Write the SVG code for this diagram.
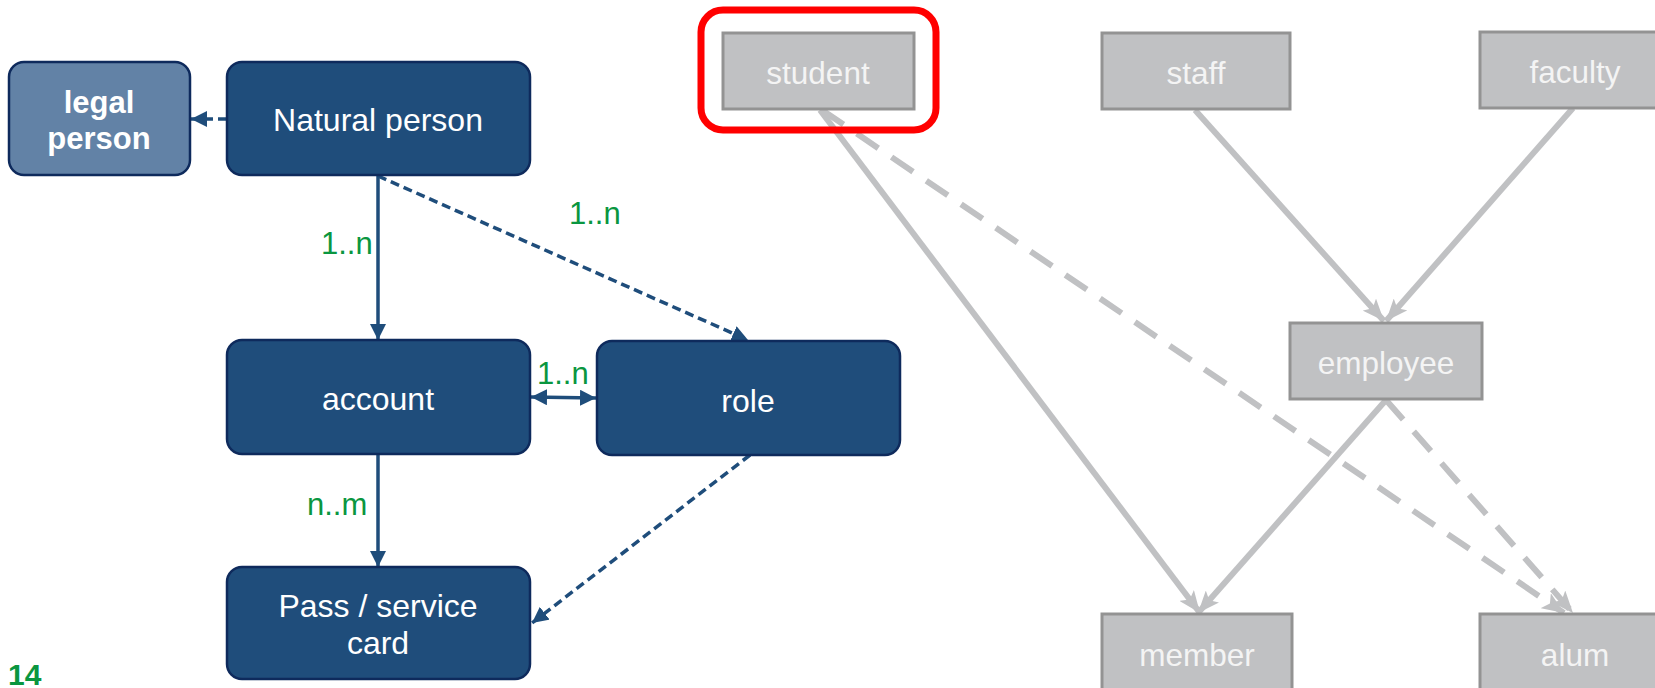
<svg xmlns="http://www.w3.org/2000/svg" width="1655" height="688" viewBox="0 0 1655 688">
<style>
.bbox{fill:#1f4d7b;stroke:#0e2a5c;stroke-width:2.5}
.lbox{fill:#6282a6;stroke:#0e2a5c;stroke-width:2.5}
.btxt{fill:#ffffff;font-family:"Liberation Sans",Arial,sans-serif;font-size:32px;text-anchor:middle}
.bold{font-weight:bold;font-size:31px}
.gbox{fill:#c0c1c3;stroke:#939393;stroke-width:3}
.gtxt{fill:#f4f4f4;font-family:"Liberation Sans",Arial,sans-serif;font-size:31.5px;text-anchor:middle}
.lab{fill:#0a9640;font-family:"Liberation Sans",Arial,sans-serif;font-size:31px}
.bl{stroke:#1f4d7b;stroke-width:3.5;fill:none}
.bd{stroke-dasharray:9 5}
.gl{stroke:#c0c1c3;stroke-width:6;fill:none}
.gd{stroke-dasharray:26 16}
</style>
<defs>
<marker id="ba" markerUnits="userSpaceOnUse" viewBox="0 0 16 16" refX="16" refY="8" markerWidth="16" markerHeight="16" orient="auto-start-reverse">
<path d="M0,0 L16,8 L0,16 z" fill="#1f4d7b"/>
</marker>
<marker id="ga" markerUnits="userSpaceOnUse" viewBox="0 0 22 18" refX="22" refY="9" markerWidth="22" markerHeight="18" orient="auto">
<path d="M0,0 L22,9 L0,18 L5,9 z" fill="#c0c1c3"/>
</marker>
</defs>

<g id="connectors">
<line class="bl bd" x1="227" y1="119" x2="191" y2="119" marker-end="url(#ba)"/>
<line class="bl" x1="378" y1="176" x2="378" y2="340" marker-end="url(#ba)"/>
<line class="bl bd" x1="378" y1="176" x2="748" y2="340" marker-end="url(#ba)"/>
<line class="bl" x1="531" y1="397" x2="596" y2="398" marker-start="url(#ba)" marker-end="url(#ba)"/>
<line class="bl" x1="378" y1="454" x2="378" y2="567" marker-end="url(#ba)"/>
<line class="bl bd" x1="750" y1="455" x2="532" y2="623" marker-end="url(#ba)"/>

<line class="gl" x1="820" y1="110" x2="1200" y2="613" marker-end="url(#ga)"/>
<line class="gl gd" x1="822" y1="110" x2="1564" y2="613" marker-end="url(#ga)"/>
<line class="gl" x1="1195" y1="110" x2="1384" y2="321" marker-end="url(#ga)"/>
<line class="gl" x1="1573" y1="108" x2="1386" y2="321" marker-end="url(#ga)"/>
<line class="gl" x1="1386" y1="400" x2="1198" y2="613" marker-end="url(#ga)"/>
<line class="gl gd" x1="1386" y1="400" x2="1573" y2="613" marker-end="url(#ga)"/>

<text class="lab" x="321" y="254">1..n</text>
<text class="lab" x="569" y="224">1..n</text>
<text class="lab" x="537" y="384">1..n</text>
<text class="lab" x="307" y="515">n..m</text>
</g>

<g id="legal-person">
<rect class="lbox" x="9" y="62" width="181" height="113" rx="15"/>
<text class="btxt bold" x="99" y="113">legal</text>
<text class="btxt bold" x="99" y="149">person</text>
</g>
<g id="natural-person">
<rect class="bbox" x="227" y="62" width="303" height="113" rx="15"/>
<text class="btxt" x="378" y="131">Natural person</text>
</g>
<g id="account">
<rect class="bbox" x="227" y="340" width="303" height="114" rx="15"/>
<text class="btxt" x="378" y="410">account</text>
</g>
<g id="role">
<rect class="bbox" x="597" y="341" width="303" height="114" rx="15"/>
<text class="btxt" x="748" y="412">role</text>
</g>
<g id="pass">
<rect class="bbox" x="227" y="567" width="303" height="112" rx="15"/>
<text class="btxt" x="378" y="617">Pass / service</text>
<text class="btxt" x="378" y="654">card</text>
</g>

<g id="student-highlight">
<rect x="701" y="10" width="235" height="120" rx="22" fill="none" stroke="#ff0000" stroke-width="7"/>
</g>
<g id="student">
<rect class="gbox" x="723" y="33" width="191" height="76"/>
<text class="gtxt" x="818" y="84">student</text>
</g>
<g id="staff">
<rect class="gbox" x="1102" y="33" width="188" height="76"/>
<text class="gtxt" x="1196" y="84">staff</text>
</g>
<g id="faculty">
<rect class="gbox" x="1480" y="32" width="190" height="76"/>
<text class="gtxt" x="1575" y="83">faculty</text>
</g>
<g id="employee">
<rect class="gbox" x="1290" y="323" width="192" height="76"/>
<text class="gtxt" x="1386" y="374">employee</text>
</g>
<g id="member">
<rect class="gbox" x="1102" y="614" width="190" height="90"/>
<text class="gtxt" x="1197" y="666">member</text>
</g>
<g id="alum">
<rect class="gbox" x="1480" y="614" width="190" height="90"/>
<text class="gtxt" x="1575" y="666">alum</text>
</g>

<text x="8" y="685" fill="#0a9640" font-family="'Liberation Sans',Arial,sans-serif" font-size="30" font-weight="bold">14</text>
</svg>
